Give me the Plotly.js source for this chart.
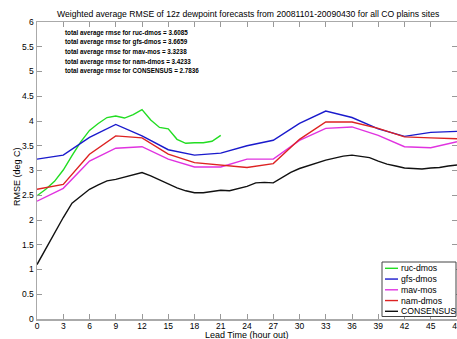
<!DOCTYPE html>
<html>
<head>
<meta charset="utf-8">
<script src="https://cdn.plot.ly/plotly-3.0.1.min.js"></script>
<style>html,body{margin:0;padding:0;background:#fff;}#chart{width:457px;height:339px;}</style>
</head>
<body>
<div id="chart"></div>
<script>
// Lead times
const hoursHourly = [0,1,2,3,4,5,6,7,8,9,10,11,12,13,14,15,16,17,18,19,20,21,22,23,24,25,26,27,28,29,30,31,32,33,34,35,36,37,38,39,40,41,42,43,44,45,46,47,48];
const hoursRuc = [0,1,2,3,4,5,6,7,8,9,10,11,12,13,14,15,16,17,18,19,20,21];
const hours3 = [0,3,6,9,12,15,18,21,24,27,30,33,36,39,42,45,48];

// Series values (RMSE, deg C)
const rucDmos = [2.49,2.62,2.78,3.01,3.30,3.58,3.81,3.95,4.07,4.10,4.06,4.13,4.23,4.02,3.87,3.84,3.63,3.55,3.56,3.56,3.59,3.71];
const gfsDmos = [3.23,3.31,3.67,3.93,3.70,3.42,3.31,3.35,3.50,3.61,3.95,4.20,4.07,3.84,3.69,3.77,3.79];
const mavMos  = [2.38,2.64,3.19,3.45,3.48,3.23,3.07,3.07,3.23,3.23,3.61,3.85,3.88,3.71,3.48,3.46,3.58];
const namDmos = [2.62,2.72,3.33,3.70,3.66,3.33,3.16,3.11,3.06,3.14,3.63,3.98,3.98,3.85,3.68,3.66,3.64];
const consensus = [1.10,1.42,1.74,2.05,2.34,2.49,2.62,2.71,2.79,2.82,2.87,2.92,2.96,2.89,2.81,2.73,2.65,2.59,2.55,2.55,2.57,2.60,2.59,2.64,2.68,2.75,2.76,2.75,2.86,2.96,3.04,3.10,3.16,3.21,3.25,3.29,3.31,3.29,3.26,3.19,3.13,3.09,3.05,3.04,3.03,3.05,3.06,3.09,3.11];

const seriesNames = ['ruc-dmos','gfs-dmos','mav-mos','nam-dmos','CONSENSUS'];
const totalRmse = ['3.6085','3.6659','3.3238','3.4233','2.7836'];
const xTicks = [0,3,6,9,12,15,18,21,24,27,30,33,36,39,42,45,48];

const titleText = 'Weighted average RMSE of 12z dewpoint forecasts from 20081101-20090430 for all CO plains sites';
const xTitle = 'Lead Time (hour out)';
const yTitle = 'RMSE (deg C)';

const colors = ['#22dd22','#1a1acc','#e033e0','#dd2222','#111111'];
const xs = [hoursRuc, hours3, hours3, hours3, hoursHourly];
const ys = [rucDmos, gfsDmos, mavMos, namDmos, consensus];

const traces = seriesNames.map((n,i)=>({
  x: xs[i], y: ys[i], name: n, type:'scatter', mode:'lines',
  line:{color:colors[i], width:1.4}
}));

// pixel -> paper helpers (plot area: left 37, width 420, top 22, height 297)
const PX = px => (px-37)/420;
const PY = py => (319-py)/297;

const annotations = seriesNames.map((n,i)=>({
  xref:'paper', yref:'paper', xanchor:'left', yanchor:'middle',
  x: PX(63), y: PY(32.5+9.7*i),
  text:'<b>total average rmse for '+n+' = '+totalRmse[i]+'</b>',
  showarrow:false, font:{size:6.3, color:'#000', family:'Liberation Sans, Arial, sans-serif'}
}));
annotations.push({xref:'paper', yref:'paper', x:PX(247), y:PY(335), xanchor:'center', yanchor:'middle',
  text:xTitle, showarrow:false, font:{size:9, color:'#000'}});
annotations.push({xref:'paper', yref:'paper', x:PX(17), y:PY(177), xanchor:'center', yanchor:'middle',
  text:yTitle, textangle:-90, showarrow:false, font:{size:9, color:'#000'}});
annotations.push({xref:'paper', yref:'paper', x:PX(441), y:PY(13.5), xanchor:'right', yanchor:'middle',
  text:titleText, showarrow:false, font:{size:8.65, color:'#000'}});

// custom legend (MATLAB style)
const shapes = [{type:'rect', xref:'paper', yref:'paper', x0:PX(382), x1:PX(456), y0:PY(316.5), y1:PY(262),
  line:{color:'#444', width:1}, fillcolor:'#fff', layer:'above'}];
seriesNames.forEach((n,i)=>{
  const yy = 268.3 + 10.75*i;
  shapes.push({type:'line', xref:'paper', yref:'paper', x0:PX(385), x1:PX(398), y0:PY(yy), y1:PY(yy),
    line:{color:colors[i], width:1.4}, layer:'above'});
  annotations.push({xref:'paper', yref:'paper', x:PX(398.5), y:PY(yy), xanchor:'left', yanchor:'middle',
    text:n, showarrow:false, font:{size:8.7, color:'#000'}});
});

const layout = {
  width:457, height:339,
  margin:{l:37, r:0, t:22, b:20},
  paper_bgcolor:'#fff', plot_bgcolor:'#fff',
  font:{family:'Liberation Sans, Arial, sans-serif', size:9, color:'#000'},
  xaxis:{range:[0,48], tickvals:xTicks, ticktext:xTicks.map(String), ticks:'inside', ticklen:5, tickcolor:'#999',
    showline:true, linecolor:'#aaa', linewidth:1.5, mirror:'ticks', showgrid:false, zeroline:false,
    tickfont:{size:8.5}, ticklabeloverflow:'allow', ticklabelstandoff:-2},
  yaxis:{range:[0,6], dtick:0.5, ticks:'inside', ticklen:5, tickcolor:'#999',
    showline:true, linecolor:'#aaa', linewidth:1.5, mirror:'ticks', showgrid:false, zeroline:false, tickfont:{size:8.5}},
  showlegend:false,
  shapes: shapes,
  annotations: annotations
};

Plotly.newPlot('chart', traces, layout, {displayModeBar:false, staticPlot:true});
</script>
</body>
</html>
